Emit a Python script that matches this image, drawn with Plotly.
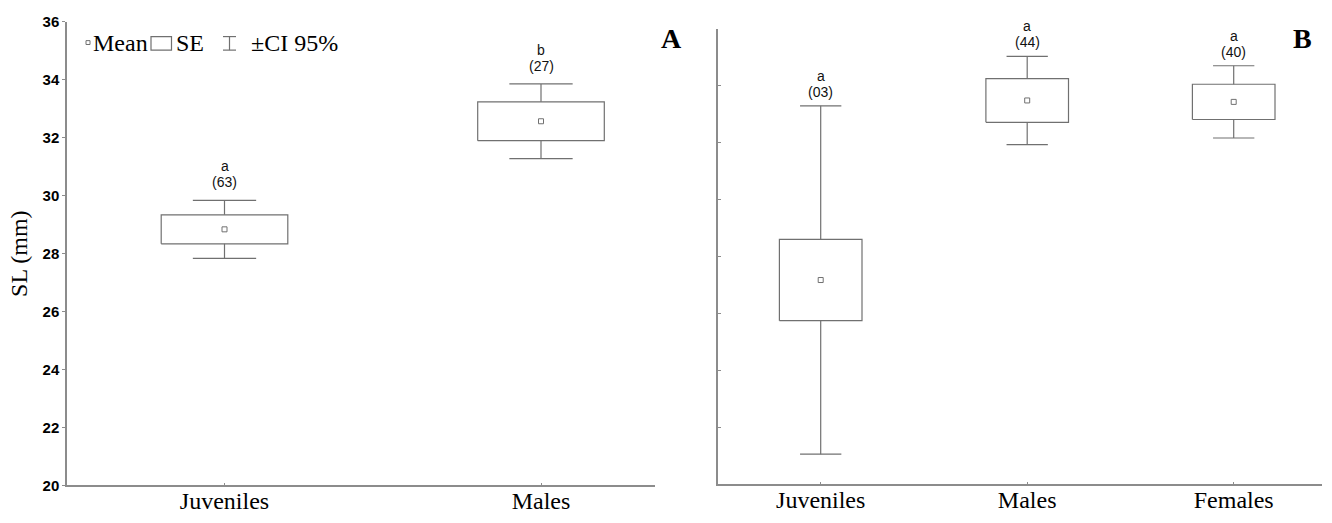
import plotly.graph_objects as go

# Panel A: standard length by group
categories_a = ["Juveniles", "Males"]
mean_a = [28.84, 32.57]
se_a = [0.50, 0.67]
ci_a = [1.00, 1.29]
letters_a = ["a", "b"]
n_a = ["(63)", "(27)"]

# Panel B: standard length by group
categories_b = ["Juveniles", "Males", "Females"]
mean_b = [27.18, 33.49, 33.44]
se_b = [1.43, 0.77, 0.62]
ci_b = [6.12, 1.55, 1.27]
letters_b = ["a", "a", "a"]
n_b = ["(03)", "(44)", "(40)"]

y_ticks = [20, 22, 24, 26, 28, 30, 32, 34, 36]

W, H = 1332, 523
AXIS_COLOR = "#8c8c8c"
BOX_COLOR = "#707070"
SERIF = "Liberation Serif, Times New Roman, serif"
SANS = "Liberation Sans, Arial, sans-serif"

BOX_HALF = 0.2
CAP_HALF = 0.1


def px(x, y):
    """Pixel position -> paper coordinates."""
    return x / W, 1 - y / H


def box_whisker_path(means, ses, cis):
    xs, ys = [], []
    for i, (m, se, ci) in enumerate(zip(means, ses, cis)):
        lo, hi = m - se, m + se
        # SE box
        xs += [i - BOX_HALF, i + BOX_HALF, i + BOX_HALF, i - BOX_HALF, i - BOX_HALF, None]
        ys += [lo, lo, hi, hi, lo, None]
        # upper whisker + cap
        xs += [i, i, None, i - CAP_HALF, i + CAP_HALF, None]
        ys += [hi, m + ci, None, m + ci, m + ci, None]
        # lower whisker + cap
        xs += [i, i, None, i - CAP_HALF, i + CAP_HALF, None]
        ys += [lo, m - ci, None, m - ci, m - ci, None]
    return xs, ys


fig = go.Figure()

for means, ses, cis, xa, ya in [
    (mean_a, se_a, ci_a, "x", "y"),
    (mean_b, se_b, ci_b, "x2", "y2"),
]:
    xs, ys = box_whisker_path(means, ses, cis)
    fig.add_trace(go.Scatter(
        x=xs, y=ys, mode="lines", xaxis=xa, yaxis=ya,
        line=dict(color=BOX_COLOR, width=1.2), hoverinfo="skip", showlegend=False,
    ))
    fig.add_trace(go.Scatter(
        x=list(range(len(means))), y=means, mode="markers", xaxis=xa, yaxis=ya,
        marker=dict(symbol="square-open", size=5, color=BOX_COLOR, line=dict(width=1)),
        showlegend=False,
    ))

annotations = []
for means, cis, letters, ns, xa, ya, s_n, s_l in [
    (mean_a, ci_a, letters_a, n_a, "x", "y", 18, 34),
    (mean_b, ci_b, letters_b, n_b, "x2", "y2", 14, 30),
]:
    for i, (m, ci, lt, n) in enumerate(zip(means, cis, letters, ns)):
        annotations.append(dict(x=i, y=m + ci, xref=xa, yref=ya, text=n, showarrow=False,
                                yanchor="middle", yshift=s_n,
                                font=dict(family=SANS, size=14, color="#111")))
        annotations.append(dict(x=i, y=m + ci, xref=xa, yref=ya, text=lt, showarrow=False,
                                yanchor="middle", yshift=s_l,
                                font=dict(family=SANS, size=14, color="#111")))

# panel letters
for label, (cx, cy) in [("A", (672, 30)), ("B", (1302, 30.5))]:
    x, y = px(cx, cy)
    annotations.append(dict(x=x, y=y, xref="paper", yref="paper", text=f"<b>{label}</b>",
                            showarrow=False, xanchor="center", yanchor="middle",
                            font=dict(family=SERIF, size=28, color="black")))

# key: Mean / SE / ±CI 95%
for text, lx in [("Mean", 91), ("SE", 174), ("±CI 95%", 249)]:
    x, y = px(lx, 35.5)
    annotations.append(dict(x=x, y=y, xref="paper", yref="paper", text=text,
                            showarrow=False, xanchor="left", yanchor="middle",
                            font=dict(family=SERIF, size=24, color="black")))

shapes = []


def rect(x0, y0, x1, y1, width=1):
    a = px(x0, y0)
    b = px(x1, y1)
    shapes.append(dict(type="rect", xref="paper", yref="paper", x0=a[0], y0=a[1], x1=b[0], y1=b[1],
                       line=dict(color=BOX_COLOR, width=width)))


def seg(x0, y0, x1, y1):
    a = px(x0, y0)
    b = px(x1, y1)
    shapes.append(dict(type="line", xref="paper", yref="paper", x0=a[0], y0=a[1], x1=b[0], y1=b[1],
                       line=dict(color=BOX_COLOR, width=1.2)))


rect(86, 32.7, 90, 36.7, width=1)
rect(151, 28.5, 171.5, 42.5, width=1.2)
seg(223, 28.5, 236, 28.5)
seg(229.5, 28.5, 229.5, 42.5)
seg(223, 42.5, 236, 42.5)

xa_dom = [67 / W, 655 / W]
xb_dom = [718 / W, 1322 / W]
ya_dom = [1 - 492.5 / H, 1 - 13.3 / H]
yb_dom = [1 - 491.3 / H, 1 - 20.7 / H]


def x_range(dom, c0_px, step_px):
    left = (dom[0] * W - c0_px) / step_px
    right = (dom[1] * W - c0_px) / step_px
    return [left, right]


common_x = dict(showline=True, linecolor=AXIS_COLOR, linewidth=1.5, showgrid=False, zeroline=False,
                ticks="inside", ticklen=3, tickcolor=AXIS_COLOR, ticklabelstandoff=-7,
                tickfont=dict(family=SERIF, size=24, color="black"), fixedrange=True)
common_y = dict(showline=True, linecolor=AXIS_COLOR, linewidth=1.5, showgrid=False, zeroline=False,
                range=[20, 36], tickvals=y_ticks, ticklen=3, tickcolor=AXIS_COLOR, fixedrange=True)

fig.update_layout(
    width=W, height=H,
    margin=dict(l=0, r=0, t=0, b=0),
    paper_bgcolor="white", plot_bgcolor="white",
    showlegend=False,
    xaxis=dict(domain=xa_dom, anchor="y", range=x_range(xa_dom, 224.5, 316.5),
               tickvals=list(range(len(categories_a))), ticktext=categories_a, **common_x),
    yaxis=dict(domain=ya_dom, anchor="x", ticks="outside",
               tickfont=dict(family=SANS, size=15, color="black", weight="bold"),
               title=dict(text="SL (mm)", font=dict(family=SERIF, size=24, color="black"), standoff=8),
               **common_y),
    xaxis2=dict(domain=xb_dom, anchor="y2", range=x_range(xb_dom, 820.7, 206.5),
                tickvals=list(range(len(categories_b))), ticktext=categories_b, **common_x),
    yaxis2=dict(domain=yb_dom, anchor="x2", ticks="inside", showticklabels=False, **common_y),
    annotations=annotations,
    shapes=shapes,
)

fig.write_html("out.html")
